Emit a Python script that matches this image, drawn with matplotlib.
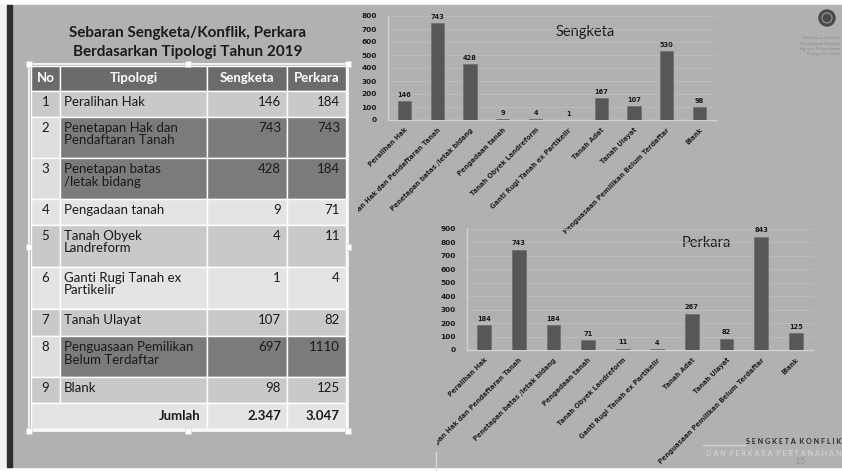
import matplotlib.pyplot as plt
from matplotlib.patches import Rectangle, Circle
from matplotlib.transforms import Bbox

plt.rcParams['font.family'] = ['Lato', 'DejaVu Sans']

# ---- data ----
categories = ['Peralihan Hak', 'Penetapan Hak dan Pendaftaran Tanah',
              'Penetapan batas /letak bidang', 'Pengadaan tanah',
              'Tanah Obyek Landreform', 'Ganti Rugi Tanah ex Partikelir',
              'Tanah Adat', 'Tanah Ulayat',
              'Penguasaan Pemilikan Belum Terdaftar', 'Blank']
sengketa = [146, 743, 428, 9, 4, 1, 167, 107, 530, 98]
perkara = [184, 743, 184, 71, 11, 4, 267, 82, 843, 125]

tbl_no = ['1', '2', '3', '4', '5', '6', '7', '8', '9']
tbl_tipologi = ['Peralihan Hak', 'Penetapan Hak dan\nPendaftaran Tanah',
                'Penetapan batas\n/letak bidang', 'Pengadaan tanah',
                'Tanah Obyek\nLandreform', 'Ganti Rugi Tanah ex\nPartikelir',
                'Tanah Ulayat', 'Penguasaan Pemilikan\nBelum Terdaftar', 'Blank']
tbl_sengketa = ['146', '743', '428', '9', '4', '1', '107', '697', '98']
tbl_perkara = ['184', '743', '184', '71', '11', '4', '82', '1110', '125']
total_sengketa = '2.347'
total_perkara = '3.047'

W, H = 842, 471
BG = '#b1b1b1'
fig = plt.figure(figsize=(W / 100, H / 100), dpi=100)
fig.patch.set_facecolor('white')

# full-figure overlay in pixel coordinates
ov = fig.add_axes([0, 0, 1, 1])
ov.set_xlim(0, W)
ov.set_ylim(H, 0)
ov.axis('off')
ov.add_patch(Rectangle((0, 5), 842, 462, color=BG, zorder=0))
ov.add_patch(Rectangle((0, 5), 7, 462, color='#f2f2f2', zorder=0))
ov.add_patch(Rectangle((7, 5), 5, 462, color='#2e2e2e', zorder=0))
ov.plot([436, 436], [452, 471], color='#e0e0e0', lw=0.8)

# title of table
ov.text(188, 33, 'Sebaran Sengketa/Konflik, Perkara', ha='center', va='center',
        fontsize=11, fontweight='bold', color='#1a1a1a')
ov.text(188, 52, 'Berdasarkan Tipologi Tahun 2019', ha='center', va='center',
        fontsize=11, fontweight='bold', color='#1a1a1a')

# table geometry
cols = [31, 60, 207, 287, 346]
rows = [66, 91, 117, 158, 199, 225, 267, 309, 336, 377, 403, 429]
light, mid, dark, nocol = '#e4e4e4', '#c9c9c9', '#7b7b7b', '#dedede'
row_fill = [mid, dark, dark, light, mid, light, mid, dark, mid]

def cell(x0, x1, y0, y1, c):
    ov.add_patch(Rectangle((x0, y0), x1 - x0, y1 - y0, facecolor=c,
                           edgecolor='white', lw=1, zorder=2))

# header
for i, lab in enumerate(['No', 'Tipologi', 'Sengketa', 'Perkara']):
    cell(cols[i], cols[i + 1], rows[0], rows[1], '#6b6b6b')
    ov.text((cols[i] + cols[i + 1]) / 2, (rows[0] + rows[1]) / 2, lab,
            ha='center', va='center', color='white', fontsize=9.5,
            fontweight='bold', zorder=3)

for r in range(len(tbl_no)):
    y0, y1 = rows[r + 1], rows[r + 2]
    c = row_fill[r]
    cell(cols[0], cols[1], y0, y1, nocol if c == dark else c)
    for j in range(1, 4):
        cell(cols[j], cols[j + 1], y0, y1, c)
    ty = y0 + 5
    ov.text((cols[0] + cols[1]) / 2, ty, tbl_no[r], ha='center', va='top',
            fontsize=9.5, color='#1a1a1a', zorder=3, linespacing=1.05)
    ov.text(cols[1] + 4, ty, tbl_tipologi[r], ha='left', va='top',
            fontsize=9.5, color='#1a1a1a', zorder=3, linespacing=1.05)
    ov.text(cols[3] - 6, ty, tbl_sengketa[r], ha='right', va='top',
            fontsize=9.5, color='#1a1a1a', zorder=3)
    ov.text(cols[4] - 6, ty, tbl_perkara[r], ha='right', va='top',
            fontsize=9.5, color='#1a1a1a', zorder=3)

# total row
cell(cols[0], cols[2], rows[-2], rows[-1], light)
cell(cols[2], cols[3], rows[-2], rows[-1], light)
cell(cols[3], cols[4], rows[-2], rows[-1], light)
ty = (rows[-2] + rows[-1]) / 2
ov.text(cols[2] - 6, ty, 'Jumlah', ha='right', va='center', fontsize=9.5,
        fontweight='bold', color='#1a1a1a', zorder=3)
ov.text(cols[3] - 6, ty, total_sengketa, ha='right', va='center', fontsize=9.5,
        fontweight='bold', color='#1a1a1a', zorder=3)
ov.text(cols[4] - 6, ty, total_perkara, ha='right', va='center', fontsize=9.5,
        fontweight='bold', color='#1a1a1a', zorder=3)

# selection frame with handles
ov.add_patch(Rectangle((29, 64), 319, 367, fill=False, edgecolor='white',
                       lw=1.2, zorder=4))
for hx in (29, 188, 348):
    for hy in (64, 247, 431):
        if hx == 188 and hy == 247:
            continue
        ov.add_patch(Rectangle((hx - 3, hy - 3), 6, 6, facecolor='white',
                               edgecolor='#cccccc', lw=0.4, zorder=5))

# logo and footer
ov.add_patch(Circle((827, 18), 8, color='#4a4a4a', zorder=2))
ov.add_patch(Circle((827, 18), 5, fill=False, edgecolor='#9a9a9a', lw=0.8, zorder=3))
for k, t in enumerate(['Direktorat Jenderal', 'Penanganan Masalah',
                       'Agraria, Pemanfaatan', 'Ruang dan Tanah']):
    ov.text(840, 38 + k * 5.5, t, ha='right', va='center', fontsize=3.2,
            color='#8a8a8a')
ov.plot([703, 745], [445, 445], color='#d0d0d0', lw=1)
ov.text(841, 442, 'S E N G K E T A  K O N F L I K', ha='right', va='center',
        fontsize=5.2, fontweight='bold', color='#2a2a2a')
ov.text(841, 453, 'D A N  P E R K A R A  P E R T A N A H A N', ha='right',
        va='center', fontsize=5.2, color='#d8d8d8')
ov.text(800, 462, '15', ha='center', va='center', fontsize=7, color='#8f8f8f')

LBL = ['DejaVu Sans']


def bar_chart(ax_px, values, ymax, step, title, title_xy, clip_px):
    left, top, right, bottom = ax_px
    ax = fig.add_axes([left / W, 1 - bottom / H, (right - left) / W,
                       (bottom - top) / H])
    ax.patch.set_alpha(0)
    x = list(range(len(values)))
    ax.bar(x, values, width=0.4, color='#575757', edgecolor='#727272',
           lw=0.6, zorder=3)
    for xi, v in zip(x, values):
        ax.text(xi, v + ymax * 0.03, str(v), ha='center', va='bottom',
                fontsize=4.8, fontweight='bold', family=LBL,
                color='#1a1a1a', clip_on=False)
    ax.set_xlim(-0.5, len(values) - 0.5)
    ax.set_ylim(0, ymax)
    ax.set_yticks(range(0, ymax + 1, step))
    ax.set_xticks(x)
    ax.set_xticklabels(categories, rotation=45, ha='right',
                       rotation_mode='anchor', fontsize=4.8, fontweight='bold',
                       family=LBL, color='#222222')
    ax.tick_params(axis='y', length=0, pad=8, labelcolor='#1a1a1a')
    for lab in ax.get_yticklabels():
        lab.set_fontweight('bold')
        lab.set_fontsize(5.3)
        lab.set_family(LBL)
    ax.tick_params(axis='x', length=0, pad=5)
    # the pasted chart picture is cropped on its left / bottom
    cx0, cy0, cx1, cy1 = clip_px
    box = Bbox.from_extents(cx0, H - cy1, cx1, H - cy0)
    for lab in ax.get_xticklabels():
        lab.set_clip_box(box)
        lab.set_clip_on(True)
    ax.grid(axis='y', color='#c0c0c0', lw=0.5, zorder=0)
    for s in ('top', 'right'):
        ax.spines[s].set_visible(False)
    for s in ('left', 'bottom'):
        ax.spines[s].set_color('#d2d2d2')
        ax.spines[s].set_linewidth(1)
    ov.text(title_xy[0], title_xy[1], title, ha='center', va='center',
            fontsize=10.5, color='#1a1a1a', zorder=5)
    return ax


bar_chart((388, 16, 716, 120), sengketa, 800, 100, 'Sengketa', (585, 32),
          (358, 0, 842, 471))
bar_chart((467, 229, 813, 350), perkara, 900, 100, 'Perkara', (706, 243),
          (437, 0, 842, 467))

fig.savefig('out.png', dpi=100, facecolor=fig.get_facecolor())
